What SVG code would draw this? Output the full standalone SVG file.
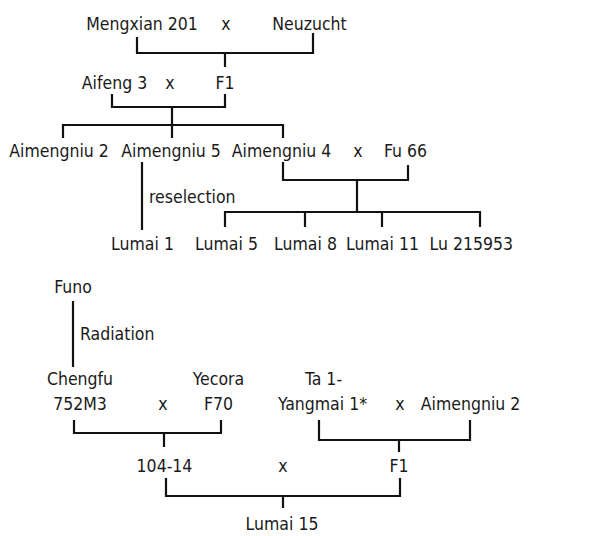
<svg xmlns="http://www.w3.org/2000/svg" width="600" height="536" viewBox="0 0 600 536">
<style>
text{font-family:"DejaVu Sans Condensed","DejaVu Sans","Liberation Sans",sans-serif;font-stretch:condensed;font-size:17.5px;fill:#1a1a1a;text-anchor:middle}
.s{text-anchor:start}
.e{text-anchor:end}
#connectors path{fill:none;stroke:#111;stroke-width:2.2}
</style>
<rect width="600" height="536" fill="#fff"/>
<g id="connectors">
<path d="M137 37V53H313V33M225 53V67"/>
<path d="M112 94V107H225V94M172 107V125M63 138V125H283V138M172 125V138"/>
<path d="M142 162V230"/>
<path d="M283 162V180H408V165M357 180V212M225 227V212H480V227M305 212V227M382 212V227"/>
<path d="M73 301V367"/>
<path d="M74 420V433H221V420M164 433V447"/>
<path d="M319 420V440H470V420M399 440V452"/>
<path d="M166 478V496H400V478M283 496V508"/>
</g>
<g id="mengxian201"><text x="142" y="30">Mengxian 201</text></g>
<g id="cross1"><text x="226" y="30">x</text></g>
<g id="neuzucht"><text x="309.5" y="30">Neuzucht</text></g>
<g id="aifeng3"><text x="114.5" y="89">Aifeng 3</text></g>
<g id="cross2"><text x="170" y="89">x</text></g>
<g id="f1a"><text x="225" y="89">F1</text></g>
<g id="aimengniu2a"><text x="59" y="157">Aimengniu 2</text></g>
<g id="aimengniu5"><text x="171" y="157">Aimengniu 5</text></g>
<g id="aimengniu4"><text x="281.5" y="157">Aimengniu 4</text></g>
<g id="cross3"><text x="358" y="157">x</text></g>
<g id="fu66"><text x="405.5" y="157">Fu 66</text></g>
<g id="reselection"><text class="s" x="149" y="203">reselection</text></g>
<g id="lumai1"><text x="142.5" y="250">Lumai 1</text></g>
<g id="lumai5"><text x="226.5" y="250">Lumai 5</text></g>
<g id="lumai8"><text x="305.5" y="250">Lumai 8</text></g>
<g id="lumai11"><text x="382.5" y="250">Lumai 11</text></g>
<g id="lu215953"><text class="e" x="513" y="250">Lu 215953</text></g>
<g id="funo"><text x="73" y="293">Funo</text></g>
<g id="radiation"><text class="s" x="80" y="340">Radiation</text></g>
<g id="chengfu"><text x="80" y="385">Chengfu</text><text x="80" y="410">752M3</text></g>
<g id="cross4"><text x="163" y="410">x</text></g>
<g id="yecora"><text x="218.5" y="385">Yecora</text><text x="218.5" y="410">F70</text></g>
<g id="ta1yangmai"><text class="s" x="305" y="385">Ta 1-</text><text x="322.5" y="410">Yangmai 1*</text></g>
<g id="cross5"><text x="400" y="410">x</text></g>
<g id="aimengniu2b"><text x="470.5" y="410">Aimengniu 2</text></g>
<g id="n104-14"><text x="164.5" y="472">104-14</text></g>
<g id="cross6"><text x="283" y="472">x</text></g>
<g id="f1b"><text x="399" y="472">F1</text></g>
<g id="lumai15"><text x="282" y="530">Lumai 15</text></g>
</svg>
